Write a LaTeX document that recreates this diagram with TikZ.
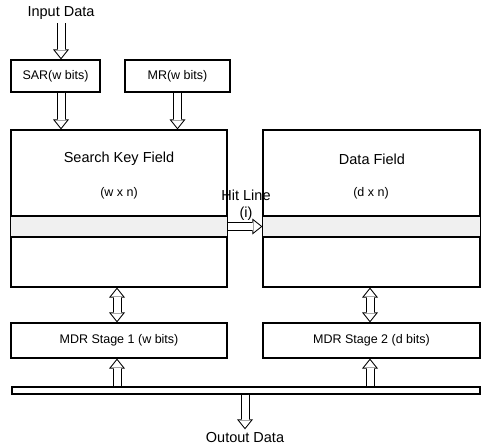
\documentclass[tikz,border=0pt]{standalone}
\usepackage{fontspec}
\setmainfont{Liberation Sans}
\usetikzlibrary{arrows.meta}
\tikzset{
  outtip/.tip={Triangle[width=16pt,length=10pt,line width=0pt]},
  intip/.tip={Triangle[width=11.8pt,length=7.4pt,line width=0pt]},
  blockarrow/.style={line width=9pt,-outtip,
    postaction={draw=white,line width=7pt,shorten >=1.6pt,-intip}},
  blockboth/.style={line width=9pt,outtip-outtip,
    postaction={draw=white,line width=7pt,shorten >=1.6pt,shorten <=1.6pt,intip-intip}},
}
\begin{document}
\begin{tikzpicture}[x=1pt,y=-1pt,
  lbl/.style={font=\fontsize{14.5}{17}\selectfont},
  boxlbl/.style={font=\fontsize{12.5}{15}\selectfont},
  regbox/.style={draw,line width=1.2pt,minimum height=32pt,inner sep=0pt,boxlbl},
  fieldbox/.style={draw,line width=1.2pt,minimum width=216pt,minimum height=157pt,inner sep=0pt},
  mdrbox/.style={draw,line width=1.2pt,minimum width=216pt,minimum height=35pt,inner sep=0pt,boxlbl},
  band/.style={fill=black!6,draw,line width=1.2pt}]
\useasboundingbox (0,0) rectangle (484,447);
% registers on top
\node[lbl] (input) at (61,13) {Input Data};
\node[regbox,minimum width=89pt] (sar) at (55.5,76) {SAR(w bits)};
\node[regbox,minimum width=105pt] (mr) at (177.5,76) {MR(w bits)};
% the two fields
\node[fieldbox] (skf) at (119,208.5) {};
\node[fieldbox,minimum width=217pt] (df) at (371.5,208.5) {};
\node[lbl] (skfname) at (119,159) {Search Key Field};
\node[boxlbl] (skfsize) at (119,193) {(w x n)};
\node[lbl] (dfname) at (372,159) {Data Field};
\node[boxlbl] (dfsize) at (371,193) {(d x n)};
\coordinate (rowtop) at (0,216);
\coordinate (rowbot) at (0,237);
\coordinate (hit) at (0,226.5);
\draw[band] (skf.west |- rowtop) rectangle (skf.east |- rowbot);
\draw[band] (df.west |- rowtop) rectangle (df.east |- rowbot);
\node[lbl,align=center] (hitlbl) at (246,205.5) {Hit Line\\(i)};
% data registers and bus
\node[mdrbox] (mdr1) at (119,340.5) {MDR Stage 1 (w bits)};
\node[mdrbox,minimum width=217pt] (mdr2) at (371.5,340.5) {MDR Stage 2 (d bits)};
\node[draw,line width=1.2pt,minimum width=468pt,minimum height=7pt,inner sep=0pt] (bus) at (246,390.5) {};
\node[lbl] (output) at (245,438) {Outout Data};
% block arrows
\draw[blockarrow] (input.south) -- (input.south |- sar.north);
\draw[blockarrow] (input.south |- sar.south) -- (input.south |- skf.north);
\draw[blockarrow] (mr.south) -- (mr.south |- skf.north);
\draw[blockarrow] (skf.east |- hit) -- (df.west |- hit);
\draw[blockboth] ([xshift=-2pt]skf.south) -- ([xshift=-2pt]mdr1.north);
\draw[blockboth] ([xshift=-1.5pt]df.south) -- ([xshift=-1.5pt]mdr2.north);
\draw[blockarrow] ([xshift=-2pt]mdr1.south |- bus.north) -- ([xshift=-2pt]mdr1.south);
\draw[blockarrow] ([xshift=-1.5pt]mdr2.south |- bus.north) -- ([xshift=-1.5pt]mdr2.south);
\draw[blockarrow] (bus.south -| output.north) -- (output.north);
\end{tikzpicture}
\end{document}
